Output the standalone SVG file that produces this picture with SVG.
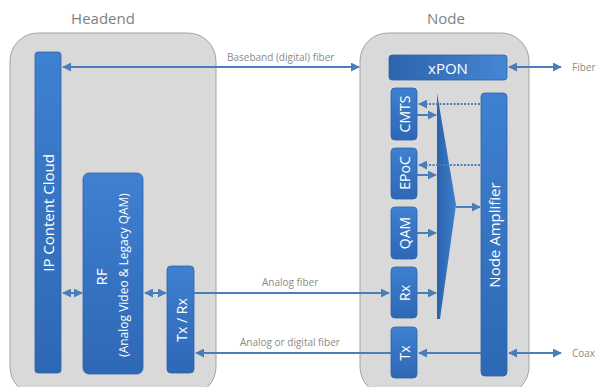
<svg xmlns="http://www.w3.org/2000/svg" width="597" height="387" viewBox="0 0 597 387">
<defs>
<linearGradient id="blueV" x1="0" y1="0" x2="0" y2="1">
<stop offset="0" stop-color="#3f80d0"/>
<stop offset="1" stop-color="#2d68b5"/>
</linearGradient>
<linearGradient id="blueH" x1="0" y1="0" x2="1" y2="0">
<stop offset="0" stop-color="#2c64ad"/>
<stop offset="1" stop-color="#4686d3"/>
</linearGradient>
<linearGradient id="tri" x1="0" y1="0" x2="1" y2="0">
<stop offset="0" stop-color="#2a62ad"/>
<stop offset="1" stop-color="#3f7fcc"/>
</linearGradient>
<marker id="ah" viewBox="0 0 10 10" refX="9" refY="5" markerWidth="9" markerHeight="9" markerUnits="userSpaceOnUse" orient="auto-start-reverse">
<path d="M0,0 L10,5 L0,10 z" fill="#4a7ebb"/>
</marker>
<style>
.cont{fill:#d9d9d9;stroke:#a3a3a3;stroke-width:1}
.blk{fill:url(#blueV);stroke:#2c62a8;stroke-width:0.8}
.title{font-family:"Open Sans","Liberation Sans",sans-serif;font-size:15px;fill:#7f7f7f;text-anchor:middle}
.lbl{font-family:"Open Sans","Liberation Sans",sans-serif;font-size:10px;fill:#8a8a8a}
.wt{font-family:"Open Sans","Liberation Sans",sans-serif;fill:#ffffff;text-anchor:middle;dominant-baseline:central}
.ln{stroke:#4a7ebb;stroke-width:2;fill:none}
.dot{stroke:#4a7ebb;stroke-width:2;fill:none;stroke-dasharray:2 1.5}
</style>
</defs>
<rect width="597" height="387" fill="#ffffff"/>
<g id="headend">
<rect class="cont" x="10" y="33" width="206" height="362" rx="28"/>
<text class="title" x="103" y="24">Headend</text>
</g>
<g id="node">
<rect class="cont" x="360" y="33" width="169" height="362" rx="28"/>
<text class="title" x="446" y="24">Node</text>
</g>
<g id="ip-cloud">
<rect class="blk" x="35" y="52" width="26" height="321" rx="3"/>
<text class="wt" font-size="15" transform="translate(48,213) rotate(-90)">IP Content Cloud</text>
</g>
<g id="rf">
<rect class="blk" x="83" y="173" width="60" height="201" rx="6"/>
<text class="wt" font-size="15" transform="translate(101,277) rotate(-90)">RF</text>
<text class="wt" font-size="12" transform="translate(123,275) rotate(-90)">(Analog Video &amp; Legacy QAM)</text>
</g>
<g id="txrx">
<rect class="blk" x="167" y="266" width="27" height="107" rx="4"/>
<text class="wt" font-size="14" transform="translate(181,320) rotate(-90)">Tx / Rx</text>
</g>
<g id="xpon">
<rect x="389" y="55" width="118" height="25" rx="3" fill="url(#blueH)" stroke="#2c62a8" stroke-width="0.8"/>
<text class="wt" font-size="15" x="448" y="68">xPON</text>
</g>
<g id="cmts">
<rect class="blk" x="391" y="88" width="26" height="52" rx="4"/>
<text class="wt" font-size="14" transform="translate(404,114) rotate(-90)">CMTS</text>
</g>
<g id="epoc">
<rect class="blk" x="391" y="148" width="26" height="51" rx="4"/>
<text class="wt" font-size="14" transform="translate(404,173) rotate(-90)">EPoC</text>
</g>
<g id="qam">
<rect class="blk" x="391" y="207" width="26" height="52" rx="4"/>
<text class="wt" font-size="14" transform="translate(404,233) rotate(-90)">QAM</text>
</g>
<g id="rx">
<rect class="blk" x="391" y="267" width="26" height="51" rx="4"/>
<text class="wt" font-size="14" transform="translate(404,293) rotate(-90)">Rx</text>
</g>
<g id="tx">
<rect class="blk" x="391" y="327" width="26" height="51" rx="4"/>
<text class="wt" font-size="14" transform="translate(404,353) rotate(-90)">Tx</text>
</g>
<g id="combiner">
<polygon points="437,93 456,205 440,319 437,319" fill="url(#tri)"/>
</g>
<g id="node-amplifier">
<rect class="blk" x="481" y="93" width="26" height="283" rx="4"/>
<text class="wt" font-size="15" transform="translate(494,235) rotate(-90)">Node Amplifier</text>
</g>
<g id="connectors">
<line class="ln" x1="63" y1="67" x2="359" y2="67" marker-start="url(#ah)" marker-end="url(#ah)"/>
<text class="lbl" x="227" y="61">Baseband (digital) fiber</text>
<line class="ln" x1="509" y1="67" x2="561" y2="67" marker-start="url(#ah)" marker-end="url(#ah)"/>
<text class="lbl" x="572" y="71">Fiber</text>
<line class="ln" x1="63" y1="293" x2="82" y2="293" marker-start="url(#ah)" marker-end="url(#ah)"/>
<line class="ln" x1="145" y1="293" x2="166" y2="293" marker-start="url(#ah)" marker-end="url(#ah)"/>
<line class="ln" x1="194" y1="293" x2="389" y2="293" marker-end="url(#ah)"/>
<text class="lbl" x="262" y="286">Analog fiber</text>
<line class="ln" x1="391" y1="353" x2="196" y2="353" marker-end="url(#ah)"/>
<text class="lbl" x="240" y="346">Analog or digital fiber</text>
<line class="ln" x1="417" y1="115" x2="436" y2="115" marker-end="url(#ah)"/>
<line class="ln" x1="417" y1="175" x2="436" y2="175" marker-end="url(#ah)"/>
<line class="ln" x1="417" y1="233" x2="436" y2="233" marker-end="url(#ah)"/>
<line class="ln" x1="417" y1="293" x2="436" y2="293" marker-end="url(#ah)"/>
<line class="dot" x1="480" y1="104" x2="419" y2="104" marker-end="url(#ah)"/>
<line class="dot" x1="480" y1="165" x2="419" y2="165" marker-end="url(#ah)"/>
<line class="ln" x1="456" y1="207" x2="480" y2="207" marker-end="url(#ah)"/>
<line class="ln" x1="481" y1="353" x2="419" y2="353" marker-end="url(#ah)"/>
<line class="ln" x1="509" y1="353" x2="561" y2="353" marker-start="url(#ah)" marker-end="url(#ah)"/>
<text class="lbl" x="572" y="357">Coax</text>
</g>
</svg>
